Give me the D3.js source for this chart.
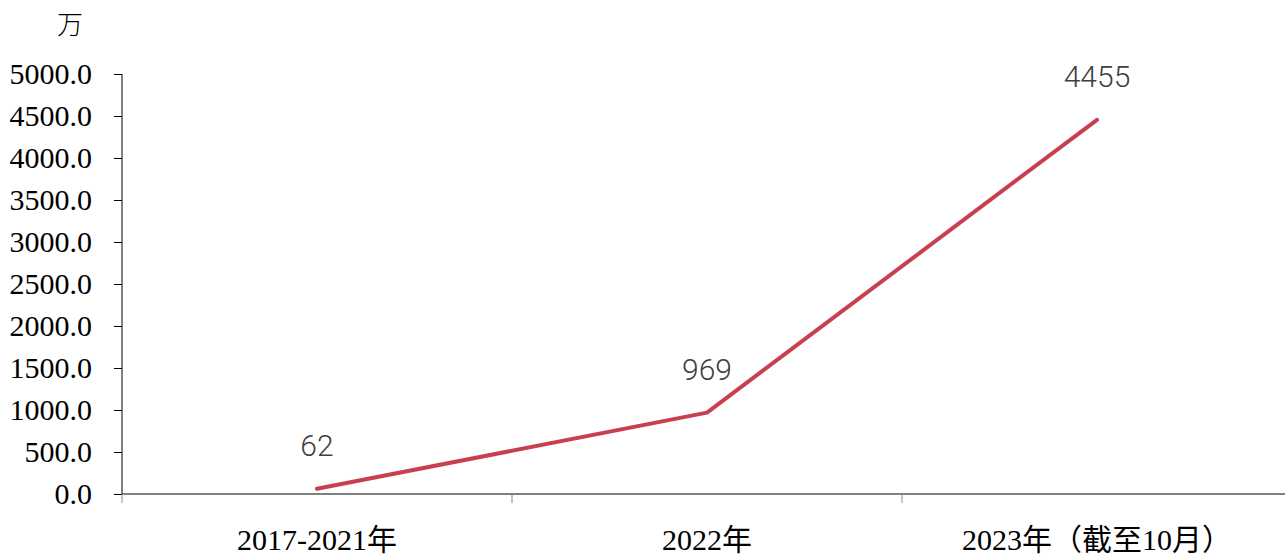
<!DOCTYPE html>
<html>
<head>
<meta charset="utf-8">
<script src="https://cdn.jsdelivr.net/npm/d3@7"></script>
<style>
  html, body { margin: 0; padding: 0; background: #fff; }
  svg { display: block; }
</style>
</head>
<body>
<svg id="chart" width="1285" height="557"></svg>
<script>
// Periods and cumulative counts (万)
const categories = ["2017-2021年", "2022年", "2023年（截至10月）"];
const values = [62, 969, 4455];
const yTicks = [0, 500, 1000, 1500, 2000, 2500, 3000, 3500, 4000, 4500, 5000];
const unitLabel = "万";

const svg = d3.select("#chart");
const margin = { left: 122, top: 74, right: -7, bottom: 63 };
const W = 1285, H = 557;

const x = d3.scaleBand()
  .domain(categories)
  .range([margin.left, W - margin.right])
  .paddingInner(0).paddingOuter(0);

const y = d3.scaleLinear()
  .domain([0, 5000])
  .range([H - margin.bottom, margin.top]);

const serif = "'Liberation Serif', 'Times New Roman', 'Noto Sans CJK SC', serif";

// Y axis
const yAxis = svg.append("g")
  .attr("transform", `translate(${margin.left},0)`)
  .call(d3.axisLeft(y).tickValues(yTicks).tickFormat(d3.format(".1f")).tickSize(8).tickPadding(22));
yAxis.selectAll("path, line").attr("stroke", "#000").attr("stroke-width", 1);
yAxis.select(".domain").attr("d", `M0,${y(5000)}V${y(0)}`);
yAxis.selectAll("text")
  .attr("font-family", serif).attr("font-size", 30).attr("fill", "#000");

// X axis with ticks on category boundaries
const xAxisG = svg.append("g").attr("transform", `translate(0,${y(0)})`);
xAxisG.append("line")
  .attr("x1", margin.left).attr("x2", W)
  .attr("stroke", "#000").attr("stroke-width", 1);
const bounds = categories.map(c => x(c));
xAxisG.selectAll("line.tick")
  .data(bounds)
  .join("line")
  .attr("class", "tick")
  .attr("x1", d => d).attr("x2", d => d)
  .attr("y1", 0).attr("y2", 9)
  .attr("stroke", "#888").attr("stroke-width", 1);
xAxisG.selectAll("text")
  .data(categories)
  .join("text")
  .attr("x", d => x(d) + x.bandwidth() / 2)
  .attr("y", 56)
  .attr("text-anchor", "middle")
  .attr("font-family", serif)
  .attr("font-size", 30)
  .attr("fill", "#000")
  .text(d => d);

// Unit label
svg.append("text")
  .attr("x", 70).attr("y", 34)
  .attr("text-anchor", "middle")
  .attr("font-family", "'Noto Sans CJK SC', serif")
  .attr("font-weight", 300)
  .attr("font-size", 26)
  .attr("fill", "#000")
  .text(unitLabel);

// Line
const pts = categories.map((c, i) => [x(c) + x.bandwidth() / 2, y(values[i])]);
svg.append("path")
  .datum(pts)
  .attr("d", d3.line())
  .attr("fill", "none")
  .attr("stroke", "#C8404F")
  .attr("stroke-width", 4)
  .attr("stroke-linecap", "round")
  .attr("stroke-linejoin", "round");

// Value labels
svg.selectAll("text.val")
  .data(values)
  .join("text")
  .attr("class", "val")
  .attr("x", (d, i) => pts[i][0])
  .attr("y", (d, i) => pts[i][1] - 33)
  .attr("text-anchor", "middle")
  .attr("font-family", "Roboto, 'Noto Sans', sans-serif")
  .attr("font-weight", 300)
  .attr("font-size", 30)
  .attr("fill", "#404040")
  .text(d => d);
</script>
</body>
</html>
